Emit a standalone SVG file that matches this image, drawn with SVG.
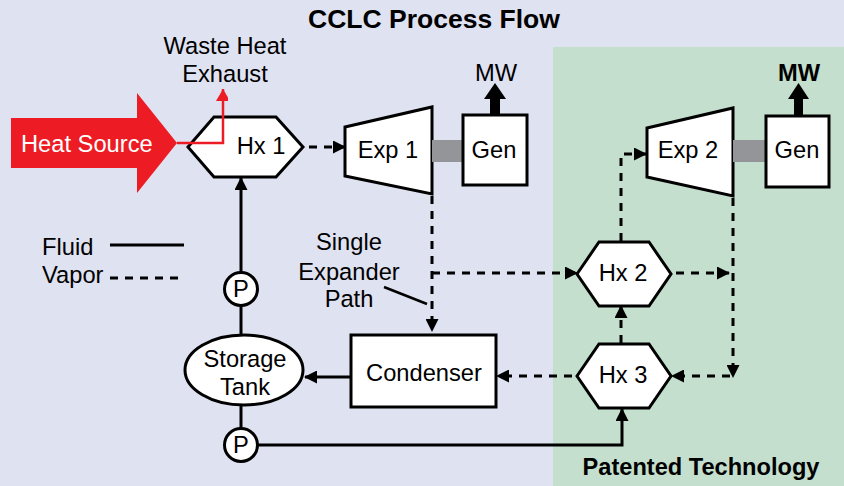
<svg xmlns="http://www.w3.org/2000/svg" width="844" height="486" viewBox="0 0 844 486">
<defs>
<style>
text{font-family:"Liberation Sans",Arial,sans-serif;font-size:23.7px;fill:#000;}
.c{text-anchor:middle;}
.b{font-weight:bold;}
.node{fill:#fff;stroke:#000;stroke-width:3;stroke-linejoin:miter;}
.sol{fill:none;stroke:#000;stroke-width:3;}
.dash{fill:none;stroke:#000;stroke-width:3;stroke-dasharray:8 7;}
.shaft{fill:#939598;}
</style>
<marker id="ah" markerWidth="13" markerHeight="13" refX="12" refY="6.5" orient="auto" markerUnits="userSpaceOnUse"><path d="M0,0 L13,6.5 L0,13 z" fill="#000"/></marker>
<marker id="ahr" markerWidth="14" markerHeight="12" refX="12" refY="7" orient="auto" markerUnits="userSpaceOnUse"><path d="M0,0 L12,7 L0,14 z" fill="#ED1C24"/></marker>
</defs>
<rect x="0" y="0" width="844" height="486" fill="#DFE2F1"/>
<rect x="553" y="47" width="291" height="439" fill="#C4DFCD"/>
<text class="c b" x="434" y="28" style="font-size:26.5px">CCLC Process Flow</text>
<text class="c b" x="701" y="475" style="font-size:23.6px">Patented Technology</text>

<g id="heat-source">
<polygon points="11,118 137,118 137,93 177,143 137,193 137,168 11,168" fill="#ED1C24"/>
<text x="21" y="152" style="fill:#fff">Heat Source</text>
</g>
<g id="waste-heat-label">
<text class="c" x="225" y="54">Waste Heat</text>
<text class="c" x="225" y="82">Exhaust</text>
</g>
<g id="hx1">
<polygon class="node" points="188,147 214,117 276,117 303,147 276,177 214,177"/>
<text class="c" x="261" y="154">Hx 1</text>
</g>
<g id="exp1">
<polygon class="node" points="345,127 432,107 432,194 345,176"/>
<text class="c" x="388" y="158">Exp 1</text>
</g>
<g id="shaft1"><rect class="shaft" x="432" y="140" width="31" height="22"/></g>
<g id="gen1">
<rect class="node" x="463" y="115" width="64" height="70"/>
<text class="c" x="494" y="158">Gen</text>
</g>
<g id="mw1">
<rect x="490" y="96" width="10" height="19" fill="#000"/>
<polygon points="484,99 495,83 506,99" fill="#000"/>
<text class="c" x="496" y="81">MW</text>
</g>
<g id="exp2">
<polygon class="node" points="647,128 733,108 733,196 647,177"/>
<text class="c" x="688" y="158">Exp 2</text>
</g>
<g id="shaft2"><rect class="shaft" x="733" y="140" width="33" height="22"/></g>
<g id="gen2">
<rect class="node" x="766" y="116" width="63" height="71"/>
<text class="c" x="797" y="158">Gen</text>
</g>
<g id="mw2">
<rect x="794" y="96" width="9" height="20" fill="#000"/>
<polygon points="788,99 798.5,83 809,99" fill="#000"/>
<text class="c b" x="799" y="81">MW</text>
</g>
<g id="hx2">
<polygon class="node" points="577,274 599,242 649,242 671,274 649,306 599,306"/>
<text class="c" x="623" y="281">Hx 2</text>
</g>
<g id="hx3">
<polygon class="node" points="577,376 599,344 649,344 671,376 649,408 599,408"/>
<text class="c" x="623" y="383">Hx 3</text>
</g>
<g id="condenser">
<rect class="node" x="351" y="335" width="145" height="72"/>
<text class="c" x="424" y="381">Condenser</text>
</g>
<g id="storage-tank">
<ellipse class="node" cx="244" cy="370" rx="59" ry="35"/>
<text class="c" x="245" y="367">Storage</text>
<text class="c" x="245" y="395">Tank</text>
</g>
<g id="pump1">
<circle class="node" cx="241" cy="289" r="16.5"/>
<text class="c" x="241" y="297">P</text>
</g>
<g id="pump2">
<circle class="node" cx="241" cy="445" r="16.5"/>
<text class="c" x="241" y="453">P</text>
</g>
<g id="legend">
<text x="42" y="255">Fluid</text>
<line class="sol" x1="110" y1="245" x2="184" y2="245"/>
<text x="42" y="283">Vapor</text>
<line class="dash" x1="110" y1="278" x2="182" y2="278"/>
</g>
<g id="single-expander-label">
<text class="c" x="349" y="250">Single</text>
<text class="c" x="349" y="280">Expander</text>
<text class="c" x="349" y="307">Path</text>
<line x1="384" y1="287" x2="427" y2="304" stroke="#000" stroke-width="2.5"/>
</g>

<g id="connectors">
<path d="M177,143 H223 V89" fill="none" stroke="#ED1C24" stroke-width="2.5" marker-end="url(#ahr)"/>
<path class="dash" d="M309,147 H345" marker-end="url(#ah)"/>
<path class="dash" d="M432,196 V331" marker-end="url(#ah)"/>
<path class="dash" d="M432,273 H577" marker-end="url(#ah)"/>
<path class="dash" d="M676,273 H729" marker-end="url(#ah)"/>
<path class="dash" d="M733,198 V377" marker-end="url(#ah)"/>
<path class="dash" d="M730,376 H672" marker-end="url(#ah)"/>
<path class="dash" d="M621,343 V306" marker-end="url(#ah)"/>
<path class="dash" d="M621,241 V154 H646" marker-end="url(#ah)"/>
<path class="dash" d="M572,376 H497" marker-end="url(#ah)"/>
<path class="sol" d="M351,377 H305" marker-end="url(#ah)"/>
<path class="sol" d="M241,335 V305.5"/>
<path class="sol" d="M241,272.5 V178" marker-end="url(#ah)"/>
<path class="sol" d="M241,405 V428.5"/>
<path class="sol" d="M257.5,445 H622 V409" marker-end="url(#ah)"/>
</g>
</svg>
